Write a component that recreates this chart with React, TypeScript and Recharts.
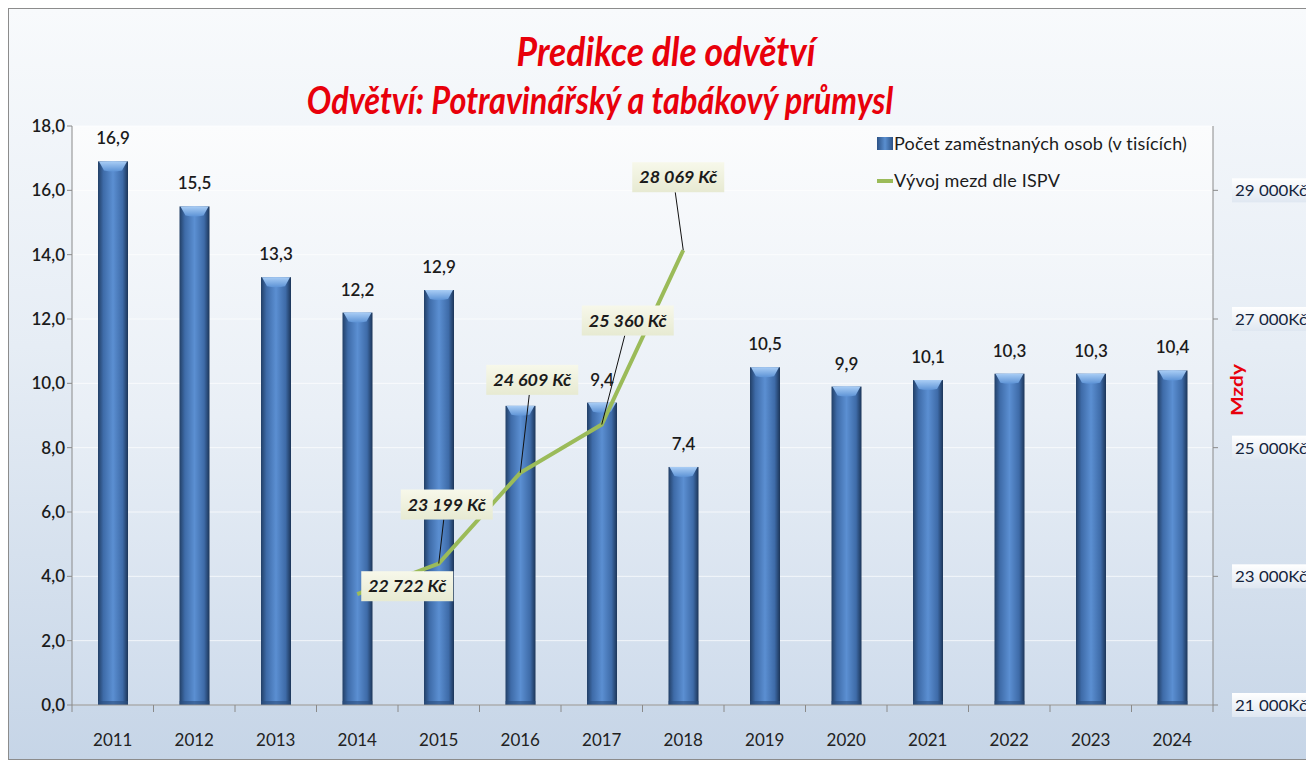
import React from "react";
import {
  Bar,
  CartesianGrid,
  ComposedChart,
  LabelList,
  Line,
  XAxis,
  YAxis,
} from "recharts";

const years = ["2011", "2012", "2013", "2014", "2015", "2016", "2017", "2018", "2019", "2020", "2021", "2022", "2023", "2024"];
const employees = [16.9, 15.5, 13.3, 12.2, 12.9, 9.3, 9.4, 7.4, 10.5, 9.9, 10.1, 10.3, 10.3, 10.4];
const wages: (number | null)[] = [null, null, null, 22722, 23199, 24609, 25360, 28069, null, null, null, null, null, null];
const leftTicks = [0, 2, 4, 6, 8, 10, 12, 14, 16, 18];
const rightTicks = [21000, 23000, 25000, 27000, 29000];
// the 2016 value label sits under the wage callout in the original, so it is not shown
const hiddenValueLabels = ["2016"];

const data = years.map((year, i) => ({ year, employees: employees[i], wage: wages[i] }));

// where each wage callout box sits, relative to its point
const wageBoxOffsets: Record<number, { dx: number; dy: number; leader: boolean }> = {
  3: { dx: 50, dy: -8, leader: false },
  4: { dx: 8, dy: -59, leader: true },
  5: { dx: 12, dy: -93, leader: true },
  6: { dx: 26, dy: -104, leader: true },
  7: { dx: -5, dy: -73, leader: true },
};

const FONT = "Lato, 'Open Sans', sans-serif";
const comma = (v: number) => v.toFixed(1).replace(".", ",");
const czk = (v: number) => `${Math.floor(v / 1000)} ${String(v % 1000).padStart(3, "0")}`;

const BarShape = (props: any) => {
  const { x, y, width, height } = props;
  if (!height || height <= 0) return null;
  const cap = Math.min(9, height);
  return (
    <g>
      <rect x={x} y={y} width={width} height={height} fill="url(#barGrad)" />
      <rect x={x} y={y + height - 4} width={width} height={4} fill="#2c4f7e" opacity={0.6} />
      <path
        d={`M${x + 1},${y} L${x + width - 1},${y} L${x + width - 6},${y + cap} Q${x + width / 2},${y + cap + 2} ${x + 6},${y + cap} Z`}
        fill="url(#capGrad)"
      />
    </g>
  );
};

const ValueLabel = (props: any) => {
  const { x, y, width, value, index } = props;
  if (value == null || hiddenValueLabels.includes(years[index])) return null;
  return (
    <text
      x={x + width / 2}
      y={y - 17}
      textAnchor="middle"
      fontFamily={FONT}
      fontSize={17}
      fontWeight={600}
      fill="#1b1b1b"
    >
      {comma(Number(value))}
    </text>
  );
};

const WageLabel = (props: any) => {
  const { x, y, value, index } = props;
  if (value == null || x == null || y == null) return null;
  const o = wageBoxOffsets[index] ?? { dx: 0, dy: -40, leader: true };
  const w = 92;
  const h = 30;
  const cx = x + o.dx;
  const cy = y + o.dy;
  return (
    <g>
      {o.leader && <line x1={x} y1={y} x2={cx - 3} y2={cy + h / 2} stroke="#111" strokeWidth={1} />}
      <rect x={cx - w / 2} y={cy - h / 2} width={w} height={h} fill="url(#boxGrad)" />
      <text
        x={cx}
        y={cy + 6}
        textAnchor="middle"
        fontFamily={FONT}
        fontStyle="italic"
        fontWeight="bold"
        fontSize={17}
        textLength={78}
        lengthAdjust="spacingAndGlyphs"
        fill="#1b1b1b"
      >
        {`${czk(value)} Kč`}
      </text>
    </g>
  );
};

const XTick = (props: any) => {
  const { x, y, payload, index } = props;
  const half = payload?.offset ?? 40.75;
  const axisY = y - 8;
  return (
    <g>
      <line x1={x - half} y1={axisY} x2={x - half} y2={axisY + 7} stroke="#8a8a8a" />
      {index === years.length - 1 && (
        <line x1={x + half} y1={axisY} x2={x + half} y2={axisY + 7} stroke="#8a8a8a" />
      )}
      <text x={x} y={y + 33} textAnchor="middle" fontFamily={FONT} fontSize={17} fill="#222">
        {payload.value}
      </text>
    </g>
  );
};

const RightTick = (props: any) => {
  const { x, y, payload } = props;
  return (
    <g>
      <rect x={x + 12} y={y - 12} width={84} height={24} fill="url(#tickGrad)" />
      <text
        x={x + 15}
        y={y + 6}
        fontFamily={FONT}
        fontSize={16}
        textLength={72}
        lengthAdjust="spacingAndGlyphs"
        fill="#15253d"
      >
        {`${czk(payload.value)}Kč`}
      </text>
    </g>
  );
};

const Legend = () => (
  <div
    style={{
      position: "absolute",
      left: 868,
      top: 116,
      fontFamily: FONT,
      fontSize: 18,
      letterSpacing: 0.2,
      color: "#1b1b1b",
      lineHeight: "37px",
    }}
  >
    <div style={{ display: "flex", alignItems: "center" }}>
      <span
        style={{
          display: "inline-block",
          width: 16,
          height: 13,
          background: "linear-gradient(90deg,#2c5286,#5a8fd0,#2c5286)",
          marginRight: 1,
        }}
      />
      Počet zaměstnaných osob (v tisících)
    </div>
    <div style={{ display: "flex", alignItems: "center" }}>
      <span style={{ display: "inline-block", width: 16, height: 4, background: "#9bbb59", marginRight: 1 }} />
      Vývoj mezd dle ISPV
    </div>
  </div>
);

const titleStyle: React.CSSProperties = {
  position: "absolute",
  left: 0,
  textAlign: "center",
  fontFamily: FONT,
  fontStyle: "italic",
  fontWeight: "bold",
  color: "#e8000b",
  transformOrigin: "50% 75%",
  transform: "scaleY(1.15)",
};

export default function App() {
  return (
    <div
      style={{
        position: "relative",
        width: 1306,
        height: 752,
        border: "1px solid #8c8c8c",
        boxSizing: "border-box",
        background: "linear-gradient(180deg,#f8fafc 0%,#e6edf5 45%,#c6d5e7 100%)",
        overflow: "hidden",
      }}
    >
      <div style={{ ...titleStyle, width: 1314, top: 22, fontSize: 35.5 }}>Predikce dle odvětví</div>
      <div style={{ ...titleStyle, width: 1182, top: 73, fontSize: 32.5 }}>
        Odvětví: Potravinářský a tabákový průmysl
      </div>
      <div style={{ position: "absolute", left: 0, top: 0 }}>
        <ComposedChart
          width={1304}
          height={750}
          data={data}
          margin={{ top: 117, right: 0, bottom: 0, left: 0 }}
          barCategoryGap={0}
        >
          <defs>
            <linearGradient id="plotBg" x1="0" y1="0" x2="0" y2="1">
              <stop offset="0%" stopColor="#fbfcfd" />
              <stop offset="50%" stopColor="#e9eff6" />
              <stop offset="100%" stopColor="#cfdcec" />
            </linearGradient>
            <linearGradient id="barGrad" x1="0" y1="0" x2="1" y2="0">
              <stop offset="0%" stopColor="#223f66" />
              <stop offset="18%" stopColor="#3e6ba8" />
              <stop offset="50%" stopColor="#5b8fd2" />
              <stop offset="82%" stopColor="#3e6ba8" />
              <stop offset="100%" stopColor="#1c3558" />
            </linearGradient>
            <linearGradient id="capGrad" x1="0" y1="0" x2="0" y2="1">
              <stop offset="0%" stopColor="#a9cdf5" />
              <stop offset="100%" stopColor="#5d93d6" />
            </linearGradient>
            <linearGradient id="boxGrad" x1="0" y1="0" x2="0" y2="1">
              <stop offset="0%" stopColor="#f7f8ea" />
              <stop offset="100%" stopColor="#e7ead2" />
            </linearGradient>
            <linearGradient id="tickGrad" x1="0" y1="0" x2="0" y2="1">
              <stop offset="0%" stopColor="#ffffff" />
              <stop offset="100%" stopColor="#dfe7f1" />
            </linearGradient>
          </defs>
          <CartesianGrid
            vertical={false}
            stroke="#ffffff"
            strokeOpacity={0.7}
            fill="url(#plotBg)"
            fillOpacity={1}
            yAxisId="left"
          />
          <XAxis
            dataKey="year"
            height={54}
            stroke="#8a8a8a"
            tickLine={false}
            tick={<XTick />}
            interval={0}
          />
          <YAxis
            yAxisId="left"
            width={63}
            domain={[0, 18]}
            ticks={leftTicks}
            stroke="#8a8a8a"
            tickSize={5}
            tickFormatter={comma}
            tick={{ fontFamily: FONT, fontSize: 17, fill: "#1b1b1b", fontWeight: 600 }}
          />
          <YAxis
            yAxisId="right"
            orientation="right"
            width={100}
            domain={[21000, 30000]}
            ticks={rightTicks}
            stroke="#8a8a8a"
            tickSize={5}
            tick={<RightTick />}
            label={{
              content: (p: any) => {
                const vb = p.viewBox ?? { x: 1204 };
                const tx = vb.x + 23;
                const ty = 381;
                return (
                  <text
                    x={tx}
                    y={ty}
                    transform={`rotate(-90 ${tx} ${ty})`}
                    textAnchor="middle"
                    dominantBaseline="central"
                    fontFamily={FONT}
                    fontWeight="bold"
                    fontSize={17}
                    textLength={52}
                    lengthAdjust="spacingAndGlyphs"
                    fill="#e8000b"
                  >
                    Mzdy
                  </text>
                );
              },
            }}
          />
          <Bar
            yAxisId="left"
            dataKey="employees"
            barSize={30}
            shape={<BarShape />}
            isAnimationActive={false}
          >
            <LabelList dataKey="employees" content={<ValueLabel />} />
          </Bar>
          <Line
            yAxisId="right"
            dataKey="wage"
            stroke="#9bbb59"
            strokeWidth={4}
            dot={false}
            activeDot={false}
            connectNulls={false}
            isAnimationActive={false}
          >
            <LabelList dataKey="wage" content={<WageLabel />} />
          </Line>
        </ComposedChart>
      </div>
      <Legend />
    </div>
  );
}
